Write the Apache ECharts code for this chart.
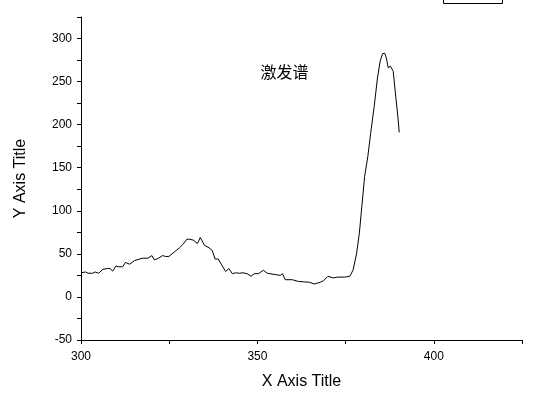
<!DOCTYPE html>
<html>
<head>
<meta charset="utf-8">
<script src="https://cdn.jsdelivr.net/npm/echarts@6/dist/echarts.min.js"></script>
<style>
  html, body { margin: 0; padding: 0; background: #fff; }
  #chart { width: 545px; height: 405px; }
</style>
</head>
<body>
<div id="chart"></div>
<script>
// 激发谱 读数（波长 nm / 强度）
const wavelength = [300, 301.3, 302, 303.3, 304, 305, 306.2, 307.5, 308.2, 309, 309.9, 310.7, 311.8, 312.6, 313.8,
  315.1, 316.6, 317.5, 319, 320.1, 320.8, 322, 323.1, 324, 324.9, 326.4, 327.9, 328.9, 330, 330.8,
  331.8, 333, 333.8, 335, 336.3, 337.2, 338, 338.9, 339.9, 341, 341.9, 342.9, 343.8, 344.9, 345.9,
  347.1, 348.2, 349.1, 350.3, 351.7, 352.8, 355, 356.5, 357.1, 357.9, 359.9, 361.6, 363.3, 364.8,
  366.1, 367.8, 368.8, 370, 371.5, 372.7, 374.7, 376.2, 377.1, 378.1, 378.9, 379.6, 380.4, 381.3,
  382.1, 383.1, 384, 384.8, 385.5, 386.1, 386.5, 387.1, 387.7, 388.2, 388.5, 389.2, 389.8, 390.2];
const intensity = [28, 29, 27.5, 27.5, 29, 27.5, 32, 33, 33, 30, 36, 35, 35, 40, 38,
  42, 44, 45, 45, 48, 43, 45, 48, 47, 47, 52, 57, 61, 67, 67,
  66, 62, 69, 60, 57, 54, 44, 44, 37, 29.5, 33, 27, 28, 27.5, 28,
  27, 24, 27, 27, 31, 27.5, 26, 25, 27, 20, 20, 18, 17.5, 17,
  15, 17, 19, 24, 22, 23, 23, 24, 31, 50, 74, 105, 140, 163,
  190, 221, 253, 274, 282.5, 283, 278, 266, 268, 269, 262, 233, 210, 191];
const label = '激发谱';
const labelAt = [357.7, 261];
const xTicks = [300, 350, 400];
const yTicks = [-50, 0, 50, 100, 150, 200, 250, 300];

const c = echarts.init(document.getElementById('chart'));
const font = 'Liberation Sans, Arial, sans-serif';
const axisCommon = {
  axisLine: { onZero: false, lineStyle: { color: '#000', width: 1 } },
  axisTick: { length: 4, lineStyle: { color: '#000' } },
  splitLine: { show: false },
  nameTextStyle: { color: '#000', fontSize: 16, fontFamily: font }
};
c.setOption({
  backgroundColor: '#fff',
  animation: false,
  grid: { left: 81, right: 23, top: 17, bottom: 65 },
  xAxis: Object.assign({}, axisCommon, {
    type: 'value', min: 300, max: 425, interval: 25,
    name: 'X Axis Title', nameLocation: 'middle', nameGap: 34,
    axisLabel: { color: '#000', fontSize: 12, fontFamily: font, margin: 11,
      formatter: v => xTicks.includes(v) ? String(v) : '' }
  }),
  yAxis: Object.assign({}, axisCommon, {
    type: 'value', min: -50, max: 325, interval: 25,
    name: 'Y Axis Title', nameLocation: 'middle', nameGap: 52,
    axisLabel: { color: '#000', fontSize: 12, fontFamily: font, margin: 9,
      formatter: v => yTicks.includes(v) ? String(v) : '' }
  }),
  series: [{
    type: 'line',
    data: wavelength.map((x, i) => [x, intensity[i]]),
    symbol: 'none',
    lineStyle: { color: '#000', width: 1 },
    markPoint: {
      symbolSize: 0,
      data: [{ coord: labelAt, value: label }],
      label: { show: true, formatter: label, color: '#000', fontSize: 16,
        fontFamily: 'Noto Sans CJK SC', position: 'inside' }
    }
  }],
  graphic: [{
    type: 'rect', left: 443, top: -2,
    shape: { width: 59, height: 5 },
    style: { fill: '#fff', stroke: '#000', lineWidth: 1 }
  }]
});
</script>
</body>
</html>
